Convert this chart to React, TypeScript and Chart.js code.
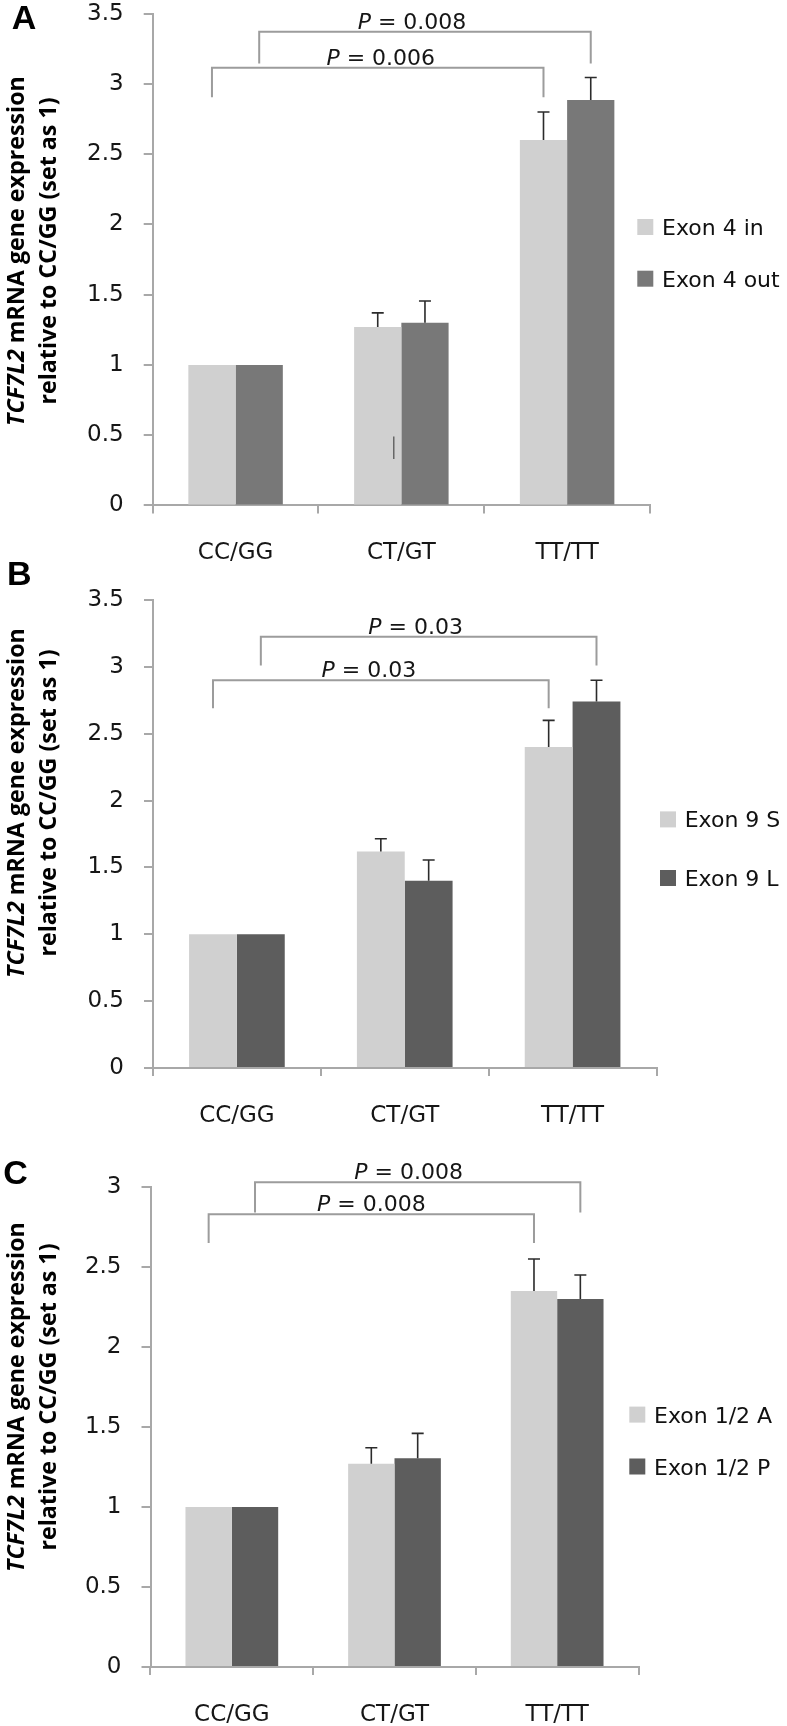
import React, { useEffect, useRef } from 'react';
import { Chart, registerables } from 'chart.js';

Chart.register(...registerables);

// ---------- data ----------
const categories = ['CC/GG', 'CT/GT', 'TT/TT'];

const seriesA = ['Exon 4 in', 'Exon 4 out'];
const lightA = [1, 1.27, 2.6];
const darkA = [1, 1.3, 2.885];
const lightErrA = [0, 0.1, 0.2];
const darkErrA = [0, 0.155, 0.16];
const yMaxA = 3.5;
const bracketsA = [
  { text: '0.006', from: [0, 0], to: [2, 0], legs: [2.905, 2.905], top: 3.115 },
  { text: '0.008', from: [0, 1], to: [2, 1], legs: [3.145, 3.145], top: 3.37 },
];
const strayA = [{ cat: 1, set: 0, low: 0.33, high: 0.49 }];

const seriesB = ['Exon 9 S', 'Exon 9 L'];
const lightB = [1, 1.62, 2.4];
const darkB = [1, 1.4, 2.74];
const lightErrB = [0, 0.095, 0.2];
const darkErrB = [0, 0.155, 0.16];
const yMaxB = 3.5;
const bracketsB = [
  { text: '0.03', from: [0, 0], to: [2, 0], legs: [2.69, 2.69], top: 2.9 },
  { text: '0.03', from: [0, 1], to: [2, 1], legs: [3.01, 3.01], top: 3.225 },
];

const seriesC = ['Exon 1/2 A', 'Exon 1/2 P'];
const lightC = [1, 1.27, 2.35];
const darkC = [1, 1.305, 2.3];
const lightErrC = [0, 0.1, 0.2];
const darkErrC = [0, 0.155, 0.15];
const yMaxC = 3;
const bracketsC = [
  { text: '0.008', from: [0, 0], to: [2, 0], legs: [2.65, 2.65], top: 2.83 },
  { text: '0.008', from: [0, 1], to: [2, 1], legs: [2.84, 2.84], top: 3.03 },
];

const titleItalic = 'TCF7L2';
const titleRest = ' mRNA gene expression';
const titleLine2 = 'relative to CC/GG (set as 1)';

// ---------- styles ----------
const W = 787;
const LIGHT = '#d0d0d0';
const DARK_A = '#787878';
const DARK_BC = '#5d5d5d';
const AXIS = '#a8a8a8';
const TEXT = '#161616';
const FONT = '"DejaVu Sans", sans-serif';
const TICK_SIZE = 23;

const PANELS = [
  {
    letter: 'A', series: seriesA, values: [lightA, darkA], errors: [lightErrA, darkErrA],
    yMax: yMaxA, brackets: bracketsA, stray: strayA, colors: [LIGHT, DARK_A],
    L: { top: 0, height: 580, left: 152.7, right: 650, plotTop: 13.6, plotBottom: 505.4,
      letterX: 11.7, letterTop: 5, titleCenter: 251, legendX: 637.3, legendTop: [219, 270.7],
      textShift: [3, -13], strayFrac: 0.84 },
  },
  {
    letter: 'B', series: seriesB, values: [lightB, darkB], errors: [lightErrB, darkErrB],
    yMax: yMaxB, brackets: bracketsB, stray: [], colors: [LIGHT, DARK_BC],
    L: { top: 555, height: 585, left: 153, right: 656.5, plotTop: 600, plotBottom: 1068,
      letterX: 7, letterTop: 561, titleCenter: 803, legendX: 660, legendTop: [811.4, 870],
      textShift: [-12, -13], strayFrac: 0.84 },
  },
  {
    letter: 'C', series: seriesC, values: [lightC, darkC], errors: [lightErrC, darkErrC],
    yMax: yMaxC, brackets: bracketsC, stray: [], colors: [LIGHT, DARK_BC],
    L: { top: 1125, height: 601, left: 150.5, right: 638.5, plotTop: 1187, plotBottom: 1667,
      letterX: 3.3, letterTop: 1160, titleCenter: 1397, legendX: 629.3, legendTop: [1406.6, 1458.5],
      textShift: [0, -9], strayFrac: 0.84 },
  },
];

function makeDecor(p: any) {
  const L = p.L;
  return {
    id: 'decor' + p.letter,
    afterDatasetsDraw(chart: any) {
      const ctx = chart.ctx;
      const ys = chart.scales.y;
      ctx.save();
      // error bars
      ctx.strokeStyle = '#2b2b2b';
      ctx.lineWidth = 1.6;
      p.errors.forEach((errs: number[], ds: number) => {
        const meta = chart.getDatasetMeta(ds);
        errs.forEach((e, i) => {
          if (!e) return;
          const bar = meta.data[i];
          const v = p.values[ds][i];
          const y0 = ys.getPixelForValue(v);
          const y1 = ys.getPixelForValue(v + e);
          ctx.beginPath();
          ctx.moveTo(bar.x, y0);
          ctx.lineTo(bar.x, y1);
          ctx.moveTo(bar.x - 6, y1);
          ctx.lineTo(bar.x + 6, y1);
          ctx.stroke();
        });
      });
      // stray mark
      p.stray.forEach((s: any) => {
        const bar = chart.getDatasetMeta(s.set).data[s.cat];
        const x = bar.x - bar.width / 2 + bar.width * L.strayFrac;
        ctx.strokeStyle = '#555';
        ctx.lineWidth = 1.3;
        ctx.beginPath();
        ctx.moveTo(x, ys.getPixelForValue(s.low));
        ctx.lineTo(x, ys.getPixelForValue(s.high));
        ctx.stroke();
      });
      // brackets
      p.brackets.forEach((b: any, k: number) => {
        const x1 = chart.getDatasetMeta(b.from[1]).data[b.from[0]].x;
        const x2 = chart.getDatasetMeta(b.to[1]).data[b.to[0]].x;
        const yt = ys.getPixelForValue(b.top);
        ctx.strokeStyle = '#9c9c9c';
        ctx.lineWidth = 2;
        ctx.beginPath();
        ctx.moveTo(x1, ys.getPixelForValue(b.legs[0]));
        ctx.lineTo(x1, yt);
        ctx.lineTo(x2, yt);
        ctx.lineTo(x2, ys.getPixelForValue(b.legs[1]));
        ctx.stroke();
        const rest = ' = ' + b.text;
        ctx.fillStyle = TEXT;
        ctx.textBaseline = 'alphabetic';
        ctx.textAlign = 'left';
        ctx.font = 'italic 22px ' + FONT;
        const wp = ctx.measureText('P').width;
        ctx.font = '22px ' + FONT;
        const wr = ctx.measureText(rest).width;
        const cx = (x1 + x2) / 2 + L.textShift[k];
        const sx = cx - (wp + wr) / 2;
        const base = yt - 3;
        ctx.font = 'italic 22px ' + FONT;
        ctx.fillText('P', sx, base);
        ctx.font = '22px ' + FONT;
        ctx.fillText(rest, sx + wp, base);
      });
      ctx.restore();
    },
    afterDraw(chart: any) {
      const ctx = chart.ctx;
      ctx.save();
      // panel letter
      ctx.fillStyle = '#000';
      ctx.textAlign = 'left';
      ctx.textBaseline = 'alphabetic';
      ctx.font = 'bold 34px "Liberation Sans", Arial, sans-serif';
      ctx.fillText(p.letter, L.letterX, L.letterTop - L.top + 24.4);
      // y title
      const tf = '"Open Sans", sans-serif';
      ctx.font = `italic bold 20px ${tf}`;
      const a20 = ctx.measureText(titleItalic).width;
      ctx.font = `bold 20px ${tf}`;
      const b20 = ctx.measureText(titleRest).width;
      const size = (20 * 350) / (a20 + b20);
      const stretch = 16.5 / (0.714 * size);
      const cy = L.titleCenter - L.top;
      ctx.font = `italic bold ${size}px ${tf}`;
      const wa = ctx.measureText(titleItalic).width;
      ctx.font = `bold ${size}px ${tf}`;
      const wb = ctx.measureText(titleRest).width;
      const w2 = ctx.measureText(titleLine2).width;
      ctx.save();
      ctx.translate(24, cy);
      ctx.rotate(-Math.PI / 2);
      ctx.scale(1, stretch);
      ctx.font = `italic bold ${size}px ${tf}`;
      ctx.fillText(titleItalic, -(wa + wb) / 2, 0);
      ctx.font = `bold ${size}px ${tf}`;
      ctx.fillText(titleRest, -(wa + wb) / 2 + wa, 0);
      ctx.restore();
      ctx.save();
      ctx.translate(56, cy);
      ctx.rotate(-Math.PI / 2);
      ctx.scale(1, stretch);
      ctx.font = `bold ${size}px ${tf}`;
      ctx.fillText(titleLine2, -w2 / 2, 0);
      ctx.restore();
      // legend
      p.series.forEach((name: string, i: number) => {
        const ty = L.legendTop[i] - L.top;
        ctx.fillStyle = p.colors[i];
        ctx.fillRect(L.legendX, ty, 16, 16);
        ctx.fillStyle = '#111';
        ctx.font = '22px ' + FONT;
        ctx.fillText(name, L.legendX + 24.7, ty + 16);
      });
      ctx.restore();
    },
  };
}

function Panel({ p }: { p: any }) {
  const ref = useRef<HTMLCanvasElement | null>(null);
  useEffect(() => {
    const L = p.L;
    const chart = new Chart(ref.current as HTMLCanvasElement, {
      type: 'bar',
      data: {
        labels: categories,
        datasets: p.series.map((name: string, i: number) => ({
          label: name,
          data: p.values[i],
          backgroundColor: p.colors[i],
          borderWidth: 0,
          categoryPercentage: 0.57,
          barPercentage: 1,
        })),
      },
      options: {
        responsive: false,
        animation: false,
        devicePixelRatio: 1,
        layout: { padding: { left: 0, right: W - L.right, top: L.plotTop - L.top, bottom: 0 } },
        plugins: { legend: { display: false }, tooltip: { enabled: false } },
        scales: {
          x: {
            type: 'category',
            grid: { display: true, drawOnChartArea: false, drawTicks: true, tickLength: 8, color: AXIS, lineWidth: 2, offset: true },
            border: { display: true, color: AXIS, width: 2 },
            ticks: { font: { family: FONT, size: TICK_SIZE }, color: TEXT, padding: 26, maxRotation: 0, autoSkip: false },
            afterFit: (s: any) => {
              s.height = L.height - (L.plotBottom - L.top);
              s.paddingLeft = 0;
              s.paddingRight = 0;
            },
          },
          y: {
            min: 0,
            max: p.yMax,
            ticks: {
              stepSize: 0.5,
              font: { family: FONT, size: TICK_SIZE },
              color: TEXT,
              padding: 20,
              callback: (v: any) => String(Number(v)),
            },
            grid: { display: true, drawOnChartArea: false, drawTicks: true, tickLength: 9, color: AXIS, lineWidth: 2 },
            border: { display: true, color: AXIS, width: 2 },
            afterFit: (s: any) => {
              s.width = L.left;
              s.paddingTop = 0;
              s.paddingBottom = 0;
            },
          },
        },
      },
      plugins: [makeDecor(p)],
    } as any);
    return () => chart.destroy();
  }, [p]);
  return (
    <canvas
      ref={ref}
      width={W}
      height={p.L.height}
      style={{ position: 'absolute', left: 0, top: p.L.top, width: W, height: p.L.height }}
    />
  );
}

export default function App() {
  return (
    <div style={{ position: 'absolute', left: 0, top: 0, width: W, height: 1726, background: '#fff', overflow: 'hidden' }}>
      {PANELS.map((p) => (
        <Panel key={p.letter} p={p} />
      ))}
    </div>
  );
}
